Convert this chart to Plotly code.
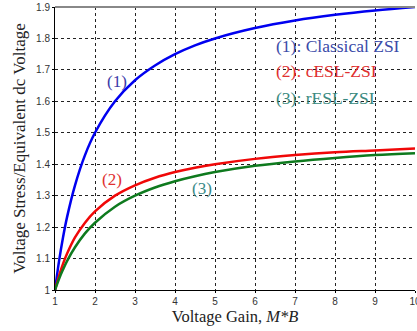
import plotly.graph_objects as go

gain = [1, 1.1, 1.2, 1.3, 1.5, 1.75, 2, 2.5, 3, 3.5, 4, 4.5, 5, 6, 7, 8, 9, 10]
classical_zsi = [1.0, 1.091, 1.167, 1.231, 1.333, 1.429, 1.5, 1.6, 1.667, 1.714, 1.75, 1.778, 1.8, 1.833, 1.857, 1.875, 1.889, 1.9]
cesl_zsi = [1.0, 1.045, 1.083, 1.115, 1.167, 1.214, 1.25, 1.3, 1.333, 1.357, 1.375, 1.389, 1.4, 1.417, 1.429, 1.438, 1.444, 1.45]
resl_zsi = [1.0, 1.035, 1.065, 1.092, 1.136, 1.18, 1.214, 1.265, 1.3, 1.326, 1.346, 1.362, 1.375, 1.395, 1.409, 1.42, 1.429, 1.435]

x_ticks = [1, 2, 3, 4, 5, 6, 7, 8, 9, 10]
y_ticks = [1, 1.1, 1.2, 1.3, 1.4, 1.5, 1.6, 1.7, 1.8, 1.9]
y_tick_labels = ["1", "1.1", "1.2", "1.3", "1.4", "1.5", "1.6", "1.7", "1.8", "1.9"]

serif = "Liberation Serif, Times New Roman, serif"
sans = "Liberation Sans, Arial, sans-serif"

fig = go.Figure()
fig.add_trace(go.Scatter(x=gain, y=classical_zsi, mode="lines", line=dict(color="#0000f0", width=2.5, shape="spline")))
fig.add_trace(go.Scatter(x=gain, y=cesl_zsi, mode="lines", line=dict(color="#f00808", width=2.5, shape="spline")))
fig.add_trace(go.Scatter(x=gain, y=resl_zsi, mode="lines", line=dict(color="#0e7a1e", width=2.5, shape="spline")))

fig.update_layout(
    width=417, height=331,
    margin=dict(l=55, r=2, t=7, b=41),
    paper_bgcolor="white", plot_bgcolor="white",
    showlegend=False,
    xaxis=dict(range=[1, 10], tickvals=x_ticks, showgrid=True, gridcolor="#222", griddash="3px,3px", gridwidth=1,
               showline=True, linecolor="black", linewidth=1, mirror=False, ticks="outside", ticklen=2, tickcolor="black",
               tickfont=dict(family=sans, size=10, color="#333"), zeroline=False, automargin=False,
               ticklabeloverflow="allow",
               title=dict(text="Voltage Gain, <i>M*B</i>", font=dict(family=serif, size=16.5, color="#222"), standoff=3)),
    yaxis=dict(range=[1, 1.9], tickvals=y_ticks, ticktext=y_tick_labels, showgrid=True, gridcolor="#222", griddash="3px,3px", gridwidth=1,
               showline=True, linecolor="black", linewidth=1, ticks="outside", ticklen=2, tickcolor="black",
               tickfont=dict(family=sans, size=10, color="#333"), zeroline=False, automargin=False,
               ticklabeloverflow="allow",
               title=dict(text="Voltage Stress/Equivalent dc Voltage", font=dict(family=serif, size=17, color="#222"), standoff=6)),
)

fig.add_shape(type="line", xref="paper", yref="paper", x0=0, x1=1, y0=1, y1=1, line=dict(color="#888", width=2))

ann = [
    ("(1)", 2.55, 1.662, "#3a3aa8", "center", 17),
    ("(2)", 2.43, 1.35, "#e03030", "center", 17),
    ("(3)", 4.68, 1.322, "#3a8a88", "center", 17),
    ("(1): Classical ZSI", 6.475, 1.777, "#3a4aa8", "left", 17.5),
    ("(2): cESL-ZSI", 6.475, 1.697, "#e03030", "left", 17.5),
    ("(3): rESL-ZSI", 6.475, 1.611, "#3a8a80", "left", 17.5),
]
for text, x, y, c, al, sz in ann:
    fig.add_annotation(x=x, y=y, text=text, showarrow=False, xanchor=al, yanchor="middle",
                       font=dict(family=serif, size=sz, color=c))

fig.write_html("out.html", config={"displayModeBar": False},
               post_script="document.body.style.margin='0px';")
